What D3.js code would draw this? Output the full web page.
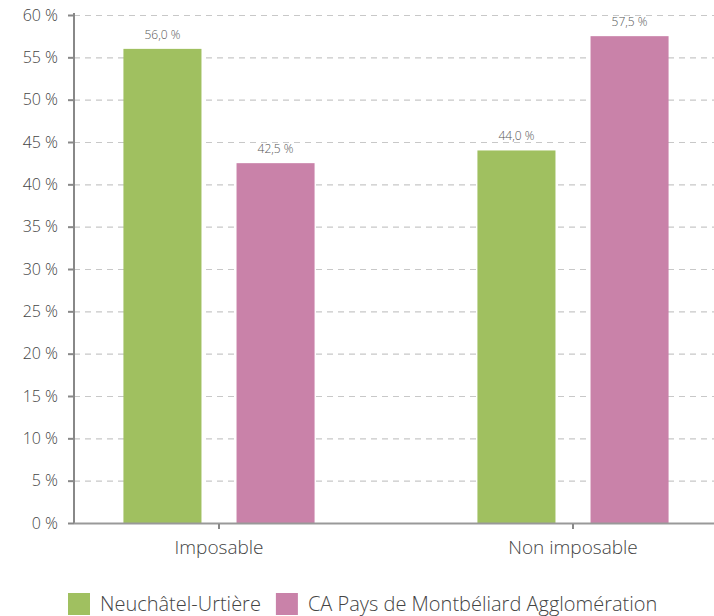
<!DOCTYPE html>
<html>
<head>
<meta charset="utf-8">
<script src="https://cdn.jsdelivr.net/npm/d3@7"></script>
<style>
  body { margin: 0; background: #fff; }
  text { font-family: "Open Sans", "Noto Sans", sans-serif; font-weight: 300; fill: #444; }
</style>
</head>
<body>
<div id="chart"></div>
<script>
// data
var categories = ["Imposable", "Non imposable"];
var seriesNames = ["Neuchâtel-Urtière", "CA Pays de Montbéliard Agglomération"];
var seriesValues = [
    [56.0, 44.0],   // Neuchâtel-Urtière
    [42.5, 57.5]    // CA Pays de Montbéliard
];
var yTicks = [0, 5, 10, 15, 20, 25, 30, 35, 40, 45, 50, 55, 60];
var colors = ["#a0c060", "#c982a9"];

var W = 714, H = 616;
var plotLeft = 74, plotRight = 714, plotTop = 15, plotBottom = 523;

var svg = d3.select("#chart").append("svg")
    .attr("width", W)
    .attr("height", H);

var y = d3.scaleLinear().domain([0, 60]).range([plotBottom, plotTop]);

// category bands, centres at ~219 and ~573
var x0 = d3.scaleBand()
    .domain(categories)
    .range([42, 750])
    .paddingInner(0)
    .paddingOuter(0);

var x1 = d3.scaleBand()
    .domain([0, 1])
    .range([0, x0.bandwidth()])
    .paddingInner(0.31)
    .paddingOuter(0.72);

// dashed gridlines
svg.append("g")
    .selectAll("line")
    .data(yTicks.filter(d => d > 0))
    .enter()
    .append("line")
    .attr("x1", plotLeft)
    .attr("x2", plotRight)
    .attr("y1", d => y(d) + 0.5)
    .attr("y2", d => y(d) + 0.5)
    .attr("stroke", "#c8c8c8")
    .attr("stroke-width", 1.2)
    .attr("stroke-dasharray", "6,5");

// bars
categories.forEach(function (cat, ci) {
    seriesValues.forEach(function (vals, si) {
        var bx = x0(cat) + x1(si);
        svg.append("rect")
            .attr("x", bx)
            .attr("y", y(vals[ci]))
            .attr("width", x1.bandwidth())
            .attr("height", plotBottom - y(vals[ci]))
            .attr("fill", colors[si]);

        svg.append("text")
            .attr("x", bx + x1.bandwidth() / 2)
            .attr("y", y(vals[ci]) - 10)
            .attr("text-anchor", "middle")
            .style("font-size", "12px")
            .style("fill", "#555")
            .text(vals[ci].toFixed(1).replace(".", ",") + " %");
    });
});

// y axis
var yAxis = svg.append("g")
    .attr("transform", "translate(" + plotLeft + ",0)")
    .call(d3.axisLeft(y).tickValues(yTicks).tickSize(6).tickPadding(10)
        .tickFormat(d => d + " %"));
yAxis.select(".domain").remove();
yAxis.selectAll("line").attr("stroke", "#888").attr("stroke-width", 2);
yAxis.selectAll("text").style("font-size", "16px").style("fill", "#444")
    .style("font-family", "'Open Sans', sans-serif");

svg.append("line")
    .attr("x1", plotLeft).attr("x2", plotLeft)
    .attr("y1", plotTop - 2).attr("y2", plotBottom + 1)
    .attr("stroke", "#888").attr("stroke-width", 2);

// x axis
svg.append("line")
    .attr("x1", plotLeft).attr("x2", plotRight)
    .attr("y1", plotBottom + 0.5).attr("y2", plotBottom + 0.5)
    .attr("stroke", "#999").attr("stroke-width", 2);

var xAxis = svg.append("g")
    .attr("transform", "translate(0," + (plotBottom + 1) + ")")
    .call(d3.axisBottom(x0).tickSize(5).tickPadding(12));
xAxis.select(".domain").remove();
xAxis.selectAll("line").attr("stroke", "#888").attr("stroke-width", 2);
xAxis.selectAll("text").style("font-size", "19px").style("fill", "#444")
    .style("font-family", "'Open Sans', sans-serif");

// legend
var legend = svg.append("g").attr("transform", "translate(68,593)");
var lx = 0;
seriesNames.forEach(function (name, i) {
    var g = legend.append("g").attr("transform", "translate(" + lx + ",0)");
    g.append("rect").attr("width", 22).attr("height", 22).attr("fill", colors[i]);
    var t = g.append("text")
        .attr("x", 32)
        .attr("y", 18)
        .style("font-size", "20px")
        .style("fill", "#444")
        .text(name);
    lx += 32 + t.node().getComputedTextLength() + 15;
});
</script>
</body>
</html>
